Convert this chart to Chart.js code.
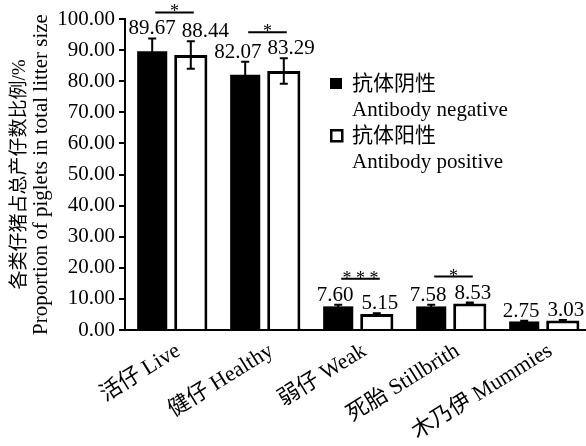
<!DOCTYPE html>
<html>
<head>
<meta charset="utf-8">
<script src="https://cdn.jsdelivr.net/npm/chart.js@4"></script>
<style>
  html, body { margin: 0; padding: 0; background: #fff; overflow: hidden; }
  #wrap { width: 600px; height: 446px; }
</style>
</head>
<body>
<div id="wrap"><canvas id="chart-piglets"></canvas></div>
<script>
const FONT_FAMILY = "'Liberation Serif', 'Times New Roman', 'Noto Sans CJK SC', serif";

// data
const categories     = ["活仔 Live", "健仔 Healthy", "弱仔 Weak", "死胎 Stillbrith", "木乃伊 Mummies"];
const negativeValues = [89.67, 82.07, 7.60, 7.58, 2.75];
const positiveValues = [88.44, 83.29, 5.15, 8.53, 3.03];
const negativeErrors = [4.1, 4.2, 0.5, 0.5, 0.2];
const positiveErrors = [4.4, 4.1, 0.2, 0.3, 0.2];
const significance   = ["*", "*", "***", "*", ""];
const negativeLabel  = ["抗体阴性", "Antibody negative"];
const positiveLabel  = ["抗体阳性", "Antibody positive"];
const yTitle         = ["各类仔猪占总产仔数比例/%", "Proportion of piglets in total litter size"];

const errors = [negativeErrors, positiveErrors];

// ── error bars, value labels, significance marks ─────────
const annotations = {
  id: "annotations",
  afterDatasetsDraw(chart) {
    const { ctx, chartArea } = chart;
    const y = chart.scales.y;
    const metas = [chart.getDatasetMeta(0), chart.getDatasetMeta(1)];
    ctx.save();
    ctx.strokeStyle = "#000";
    ctx.fillStyle = "#000";
    ctx.lineWidth = 2;
    ctx.font = "21px " + FONT_FAMILY;
    ctx.textBaseline = "alphabetic";
    ctx.textAlign = "center";

    categories.forEach((_, i) => {
      const tops = [], xs = [], texts = [];
      metas.forEach((meta, d) => {
        const bar = meta.data[i];
        const v = chart.data.datasets[d].data[i];
        const e = errors[d][i];
        const top = y.getPixelForValue(v + e), bot = y.getPixelForValue(v - e);
        ctx.beginPath();
        ctx.moveTo(bar.x, top); ctx.lineTo(bar.x, bot);
        ctx.moveTo(bar.x - 4, top); ctx.lineTo(bar.x + 4, top);
        ctx.moveTo(bar.x - 4, bot); ctx.lineTo(bar.x + 4, bot);
        ctx.stroke();
        tops.push(top); xs.push(bar.x); texts.push(v.toFixed(2));
      });
      // push the two value labels apart so they keep a small gap
      const w0 = ctx.measureText(texts[0]).width, w1 = ctx.measureText(texts[1]).width;
      const overlap = (xs[0] + w0 / 2 + 6) - (xs[1] - w1 / 2);
      const need = Math.max(overlap, 6);
      let left = need / 2;
      const room = (xs[0] - w0 / 2) - (chartArea.left + 7);
      if (left > room) left = Math.max(room, 0);
      ctx.fillText(texts[0], xs[0] - left, tops[0] - 4);
      ctx.fillText(texts[1], xs[1] + (need - left), tops[1] - 4);
    });

    ctx.font = "18px " + FONT_FAMILY;
    significance.forEach((s, i) => {
      if (!s) return;
      const a = metas[0].data[i], b = metas[1].data[i];
      const topA = y.getPixelForValue(negativeValues[i] + negativeErrors[i]);
      const topB = y.getPixelForValue(positiveValues[i] + positiveErrors[i]);
      const ly = Math.min(topA, topB) - 26;
      ctx.beginPath();
      ctx.moveTo(a.x + 3, ly); ctx.lineTo(b.x + 3, ly);
      ctx.stroke();
      ctx.fillText(s.split("").join(" "), (a.x + b.x) / 2 + 3, ly + 5);
    });
    ctx.restore();
  }
};

// ── legend and y title drawn by hand (two-line, mixed scripts) ──
const legendBox = {
  id: "legendBox",
  afterDraw(chart) {
    const { ctx, chartArea } = chart;
    ctx.save();
    ctx.fillStyle = "#000";
    ctx.fillRect(330, 78, 12, 11);
    ctx.strokeStyle = "#000";
    ctx.lineWidth = 2.5;
    ctx.strokeRect(331.25, 130.25, 11, 11);
    ctx.font = "21px " + FONT_FAMILY;
    ctx.textAlign = "left";
    ctx.textBaseline = "middle";
    ctx.fillText(negativeLabel[0], 352, 84);
    ctx.fillText(negativeLabel[1], 352, 110);
    ctx.fillText(positiveLabel[0], 352, 136);
    ctx.fillText(positiveLabel[1], 352, 162);

    const cy = (chartArea.top + chartArea.bottom) / 2;
    ctx.textAlign = "center";
    ctx.translate(20, cy);
    ctx.rotate(-Math.PI / 2);
    ctx.font = "19px " + FONT_FAMILY;
    ctx.fillText(yTitle[0], 0, 0);
    ctx.font = "21px " + FONT_FAMILY;
    ctx.fillText(yTitle[1], 0, 21);
    ctx.restore();
  }
};

new Chart(document.getElementById("chart-piglets"), {
  type: "bar",
  data: {
    labels: categories,
    datasets: [
      { label: negativeLabel.join(" "), data: negativeValues, backgroundColor: "#000",
        barPercentage: 0.78, categoryPercentage: 0.83 },
      { label: positiveLabel.join(" "), data: positiveValues, backgroundColor: "#fff",
        borderColor: "#000", borderWidth: 3, barPercentage: 0.86, categoryPercentage: 0.83 }
    ]
  },
  options: {
    responsive: true,
    maintainAspectRatio: false,
    animation: false,
    layout: { padding: { left: 0, top: 19, right: 10, bottom: 0 } },
    plugins: { legend: { display: false }, tooltip: { enabled: false } },
    scales: {
      x: {
        z: 1,
        grid: { display: false },
        border: { color: "#000", width: 2 },
        ticks: {
          color: "#000", padding: 0, maxRotation: 32, minRotation: 32, autoSkip: false,
          labelOffset: 7,
          font: { family: FONT_FAMILY, size: 22 }
        },
        afterFit: s => { s.height = 116; }
      },
      y: {
        min: 0, max: 100,
        grid: { drawOnChartArea: false, drawTicks: true, tickLength: 6, color: "#000", lineWidth: 2 },
        border: { color: "#000", width: 2 },
        ticks: {
          stepSize: 10, color: "#000", padding: 4,
          font: { family: FONT_FAMILY, size: 21 },
          callback: v => v.toFixed(2)
        },
        afterFit: s => { s.width = 125; }
      }
    }
  },
  plugins: [annotations, legendBox]
});
</script>
</body>
</html>
